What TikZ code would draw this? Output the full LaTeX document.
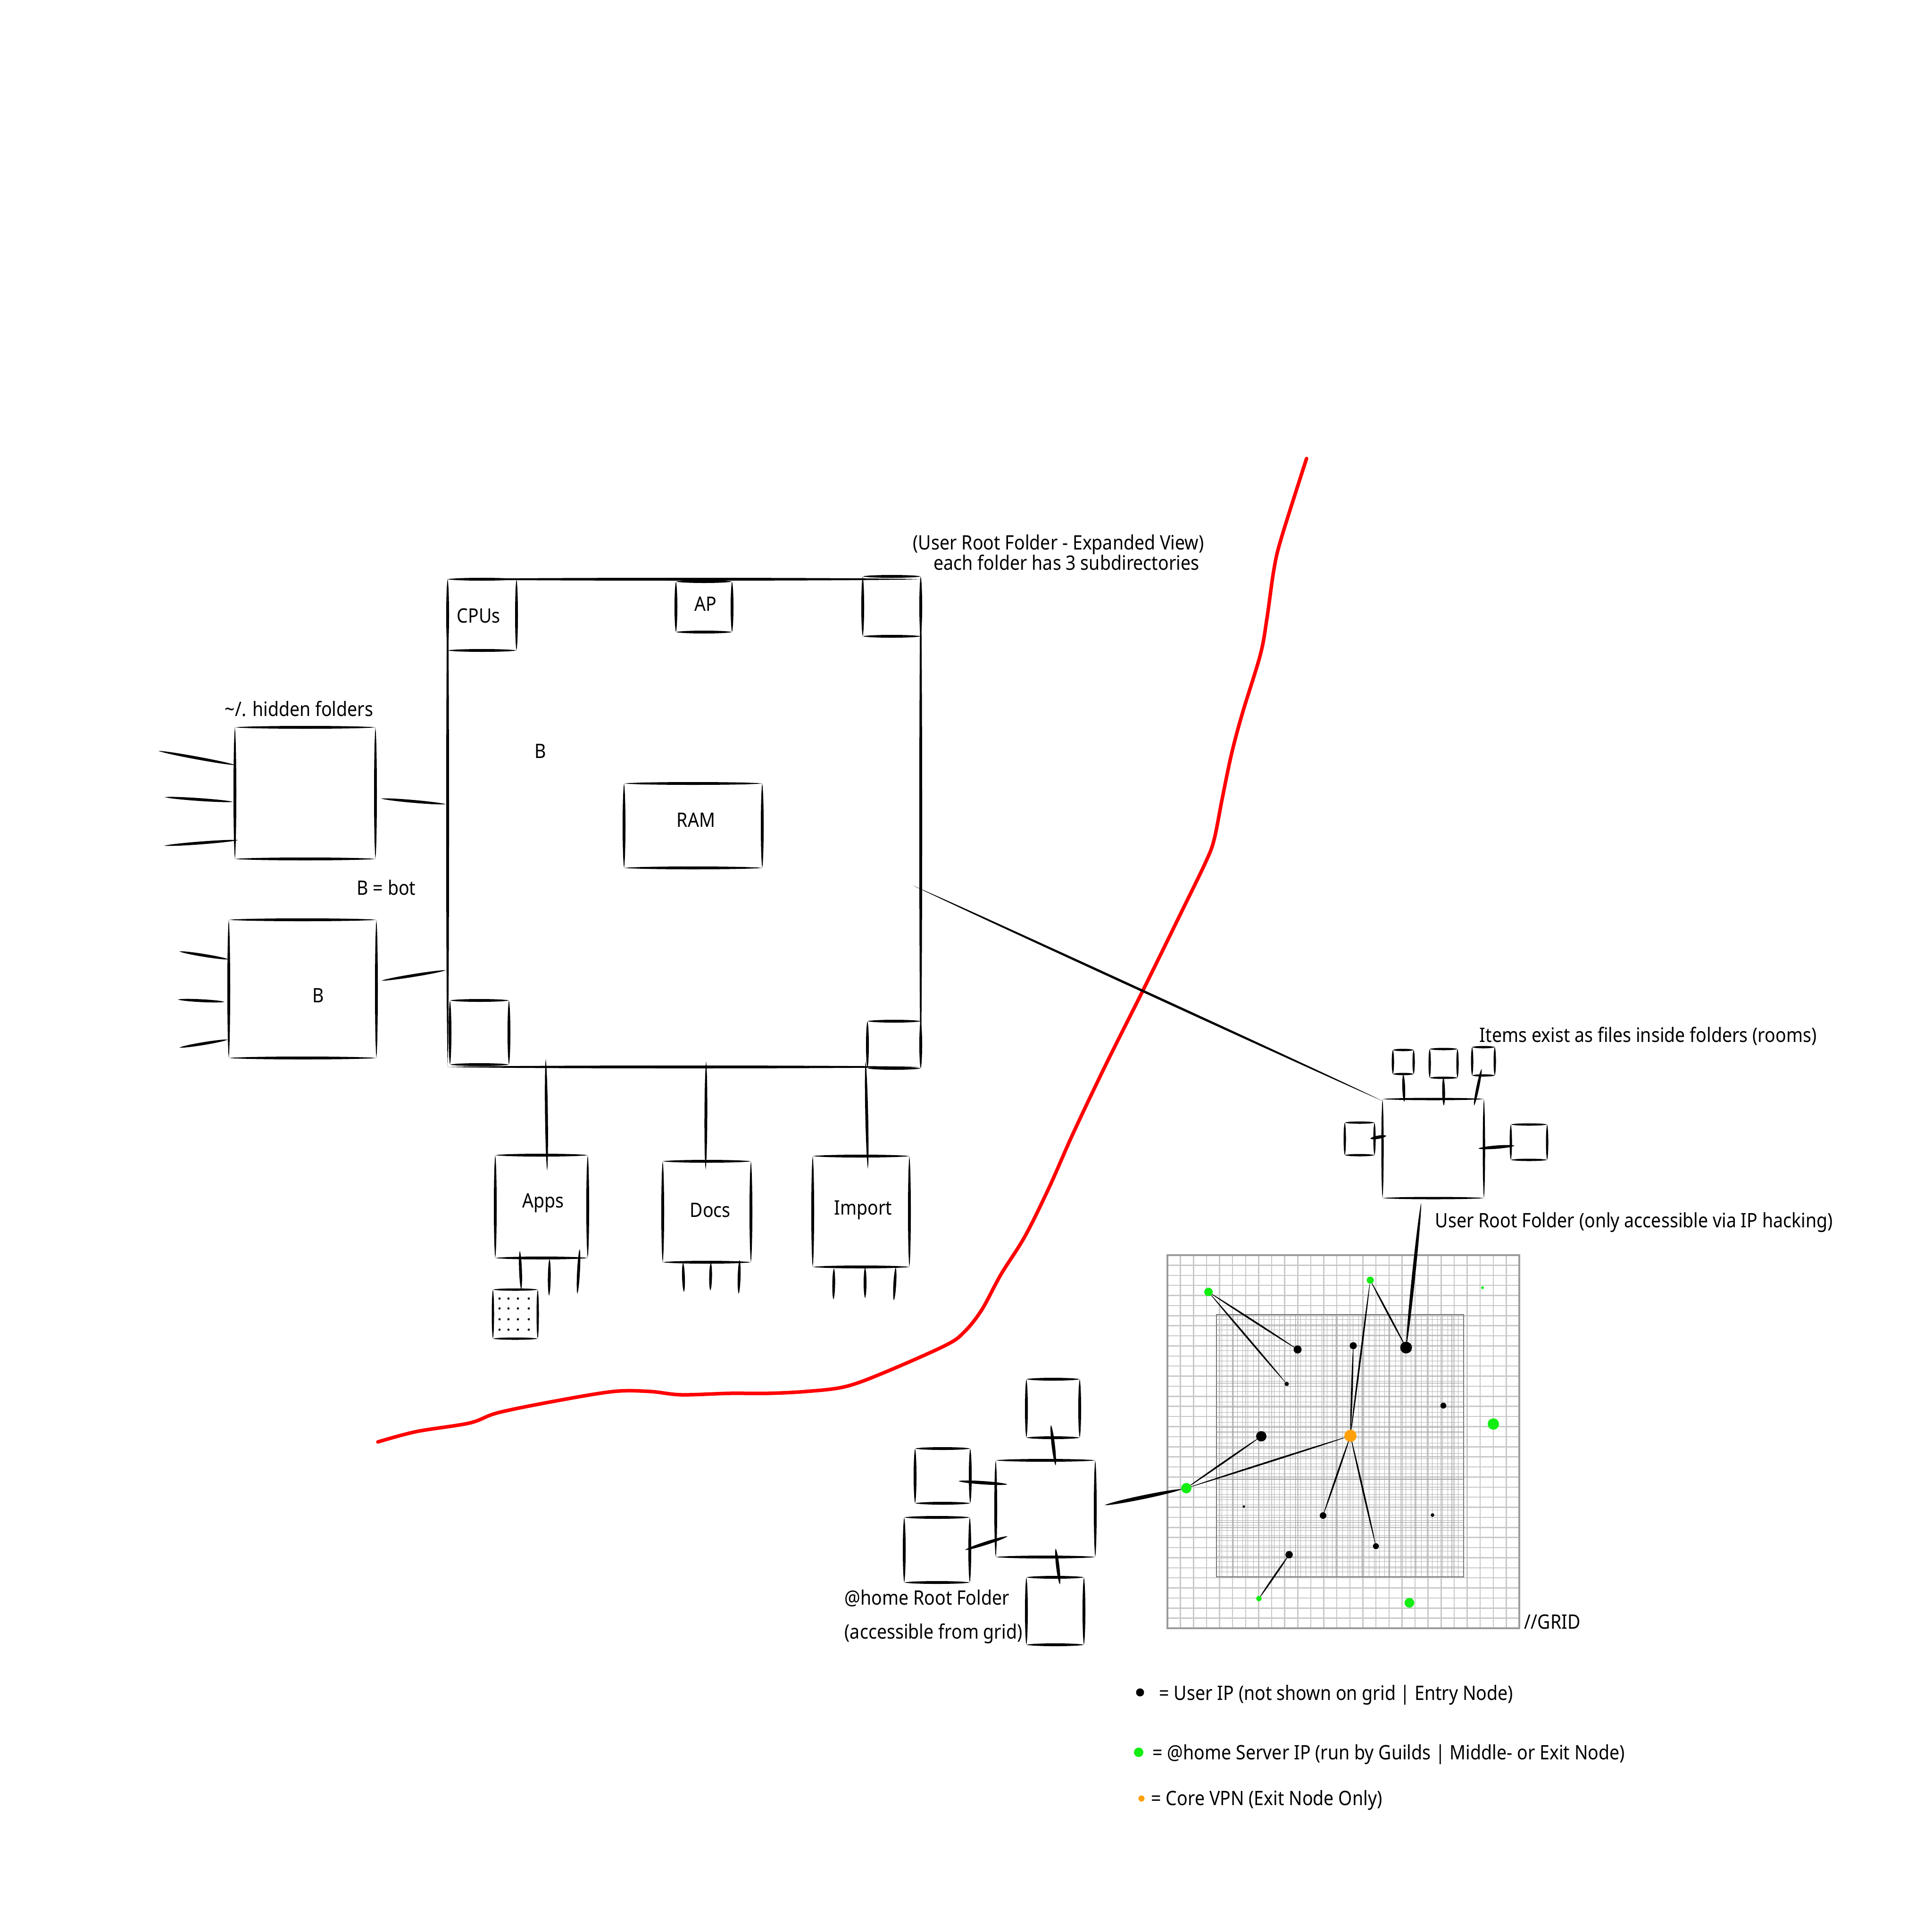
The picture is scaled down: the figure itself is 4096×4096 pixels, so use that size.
\documentclass[tikz,border=0pt]{standalone}
\usepackage{fontspec}
\setmainfont{Noto Sans}[FakeStretch=0.89]
\usetikzlibrary{calc}
\definecolor{gridc}{HTML}{C8C8C8}
\definecolor{gridb}{HTML}{9C9C9C}
\definecolor{innerc}{HTML}{B2B2B2}
\definecolor{innerd}{HTML}{949494}
\definecolor{ipg}{HTML}{12EE12}
\definecolor{ipo}{HTML}{FFA00A}
\definecolor{redc}{HTML}{FF0000}
% tapered stroke from #2 to #3, middle thickness #1 (px)
\newcommand\tp[3][6]{\pgfmathsetmacro\tpd{#1*0.0667}%
\fill ($#2$) .. controls ($#2!0.12!#3!\tpd mm!90:#3$) and ($#3!0.12!#2!\tpd mm!-90:#2$) .. ($#3$)
 .. controls ($#3!0.12!#2!\tpd mm!90:#2$) and ($#2!0.12!#3!\tpd mm!-90:#3$) .. ($#2$) -- cycle;}
% sketchy box: thickness, name, x1, y1, x2, y2
\newcommand\skb[6][6]{%
\node[box, minimum width={(#5-#3)*0.1mm}, minimum height={(#6-#4)*0.1mm}] (#2) at ({(#3+#5)/2},{(#4+#6)/2}) {};
\tp[#1]{(#2.north west)}{(#2.north east)}
\tp[#1]{(#2.north east)}{(#2.south east)}
\tp[#1]{(#2.south east)}{(#2.south west)}
\tp[#1]{(#2.south west)}{(#2.north west)}}
% connector between two named coordinates
\newcommand\cn[7][6]{\coordinate (#2) at (#3,#4); \coordinate (#5) at (#6,#7); \tp[#1]{(#2)}{(#5)}}
\tikzset{
  box/.style={inner sep=0pt, outer sep=0pt, draw=none},
  lbl/.style={anchor=base west, inner sep=0pt, font=\fontsize{12pt}{14pt}\selectfont},
  ip/.style={circle, inner sep=0pt, minimum size={#1*0.2mm}},
}
\begin{document}
\begin{tikzpicture}[x=0.1mm, y=-0.1mm]
\fill[white] (0,0) rectangle (4096,4096);
\useasboundingbox (0,0) rectangle (4096,4096);

% ---------------- red border line ----------------
\draw[redc, line width=0.75mm, line cap=round, line join=round] plot[smooth, tension=0.55] coordinates {
(2770,972) (2717,1139) (2701,1206) (2686,1311) (2672,1388) (2634,1512) (2611,1598) (2591,1694) (2574,1780) (2556,1828) (2505,1933) (2425,2096) (2344,2258) (2275,2403) (2224,2518) (2173,2621) (2122,2702) (2082,2776) (2046,2822) (2005,2852) (1872,2911) (1791,2940) (1709,2950) (1628,2954) (1546,2954) (1444,2957) (1378,2950) (1301,2950) (1179,2970) (1056,2995) (995,3017) (883,3035) (801,3057)};

% ---------------- main folder ----------------
\skb[6]{main}{949}{1228}{1952}{2262}
\skb[6]{cpus}{949}{1228}{1095}{1379}
\skb[6]{ap}{1433}{1233}{1552}{1340}
\skb[6]{tr}{1829}{1222}{1952}{1349}
\skb[6]{ram}{1323}{1661}{1616}{1840}
\skb[6]{bl}{954}{2121}{1079}{2257}
\skb[6]{br}{1839}{2165}{1952}{2265}
\node[lbl] (tcpu) at (968,1320) {CPUs};
\node[lbl] (tap) at (1472,1295) {AP};
\node[lbl] (tb1) at (1133,1607) {B};
\node[lbl] (tram) at (1434,1753) {RAM};
\node[lbl] (t1) at (1935,1165) {(User Root Folder - Expanded View)};
\node[lbl] (t2) at (1979,1208) {each folder has 3 subdirectories};

% ---------------- hidden folders / bot ----------------
\skb[6]{hid}{498}{1542}{796}{1821}
\skb[6]{bot}{485}{1950}{798}{2243}
\node[lbl] (thid) at (476,1518) {\textasciitilde/. hidden folders};
\node[lbl] (tbot) at (756,1897) {B = bot};
\node[lbl] (tb2) at (662,2125) {B};
\cn[6]{h1a}{336}{1592}{h1b}{499}{1622}
\cn[6]{h2a}{349}{1690}{h2b}{494}{1700}
\cn[6]{h3a}{348}{1793}{h3b}{505}{1781}
\cn[6]{hma}{808}{1693}{hmb}{945}{1705}
\cn[6]{b1a}{380}{2017}{b1b}{485}{2034}
\cn[6]{b2a}{377}{2119}{b2b}{476}{2124}
\cn[6]{b3a}{380}{2221}{b3b}{483}{2204}
\cn[6]{bma}{809}{2079}{bmb}{945}{2057}

% ---------------- Apps / Docs / Import ----------------
\skb[6]{apps}{1050}{2449}{1246}{2667}
\skb[6]{docs}{1405}{2462}{1592}{2676}
\skb[6]{imp}{1723}{2451}{1928}{2686}
\skb[5]{dotted}{1045}{2734}{1140}{2838}
\node[lbl] (tapps) at (1107,2560) {Apps};
\node[lbl] (tdocs) at (1462,2580) {Docs};
\node[lbl] (timp) at (1768,2575) {Import};
\cn[6]{ma1}{1157}{2245}{ma2}{1160}{2482}
\cn[6]{md1}{1497}{2250}{md2}{1496}{2480}
\cn[6]{mi1}{1835}{2250}{mi2}{1840}{2478}
\cn[6]{as1}{1102}{2652}{as1b}{1105}{2734}
\cn[6]{as2}{1165}{2669}{as2b}{1164}{2747}
\cn[6]{as3}{1229}{2648}{as3b}{1224}{2743}
\cn[6]{ds1}{1448}{2677}{ds1b}{1450}{2739}
\cn[6]{ds2}{1507}{2677}{ds2b}{1506}{2736}
\cn[6]{ds3}{1568}{2671}{ds3b}{1566}{2743}
\cn[6]{is1}{1768}{2689}{is1b}{1767}{2755}
\cn[6]{is2}{1834}{2687}{is2b}{1834}{2752}
\cn[6]{is3}{1899}{2687}{is3b}{1895}{2757}
\foreach \dx in {1059,1078,1098,1121} \foreach \dy in {2753,2774,2797,2819}
  \fill (\dx,\dy) circle (2.4);

% ---------------- user root folder ----------------
\skb[5]{uroot}{2931}{2330}{3146}{2540}
\skb[5]{it1}{2953}{2226}{2997}{2277}
\skb[5]{it2}{3031}{2224}{3090}{2285}
\skb[5]{it3}{3121}{2220}{3169}{2280}
\skb[5]{itl}{2851}{2380}{2914}{2449}
\skb[5]{itr}{3203}{2384}{3280}{2459}
\node[lbl] (titems) at (3136,2209) {Items exist as files inside folders (rooms)};
\node[lbl] (turf) at (3042,2602) {User Root Folder (only accessible via IP hacking)};
\cn[6]{u1a}{2975}{2278}{u1b}{2977}{2336}
\cn[6]{u2a}{3060}{2285}{u2b}{3061}{2344}
\cn[6]{u3a}{3141}{2266}{u3b}{3125}{2344}
\cn[7]{ula}{2905}{2414}{ulb}{2939}{2408}
\cn[7]{ura}{3134}{2435}{urb}{3211}{2429}
\cn[5]{mu1}{1935}{1877}{mu2}{2931}{2334}

% ---------------- grid ----------------
\foreach \i in {1,...,26} \draw[gridc, line width=0.25mm] ({2475+\i*27.63},2661) -- ++(0,791);
\foreach \j in {1,...,36} \draw[gridc, line width=0.25mm] (2475,{2661+\j*21.38}) -- ++(746,0);
\foreach \i in {1,...,46} \draw[innerc, line width=0.1mm] ({2579+\i*11.15},2787) -- ++(0,556);
\foreach \j in {1,...,50} \draw[innerc, line width=0.1mm] (2579,{2787+\j*10.9}) -- ++(524,0);
\foreach \x in {2614,2746,2832,2887,2944,3000,3077} \draw[innerd, line width=0.1mm] (\x,2787) -- ++(0,556);
\foreach \y in {2932,3035,3136,3227} \draw[innerd, line width=0.1mm] (2579,\y) -- ++(524,0);
\draw[innerd!80!black, line width=0.15mm] (2579,2787) rectangle (3103,3343);
\draw[gridb, line width=0.35mm] (2475,2661) rectangle (3221,3452);
\node[lbl] (tgrid) at (3231,3453) {//GRID};

% ---------------- @home root folder ----------------
\skb[6]{home}{2111}{3096}{2322}{3301}
\skb[6]{htop}{2176}{2924}{2289}{3048}
\skb[6]{hlt}{1940}{3071}{2057}{3187}
\skb[6]{hlb}{1917}{3217}{2056}{3355}
\skb[6]{hbot}{2176}{3344}{2298}{3487}
\node[lbl] (thome1) at (1790,3402) {@home Root Folder};
\node[lbl] (thome2) at (1790,3474) {(accessible from grid)};
\cn[7]{k1a}{2228}{3021}{k1b}{2238}{3107}
\cn[7]{k2a}{2032}{3140}{k2b}{2136}{3147}
\cn[7]{k3a}{2046}{3286}{k3b}{2136}{3257}
\cn[7]{k4a}{2238}{3283}{k4b}{2247}{3359}

% ---------------- IP positions and links ----------------
\coordinate (gA) at (2562,2739);
\coordinate (gB) at (2905,2714);
\coordinate (k1) at (2751,2861);
\coordinate (k2) at (2728,2934);
\coordinate (k3) at (2869,2853);
\coordinate (kbig) at (2981,2857);
\coordinate (k4) at (2674,3045);
\coordinate (or) at (2863,3044);
\coordinate (gC) at (2515,3155);
\coordinate (k5) at (2805,3213);
\coordinate (k6) at (2917,3278);
\coordinate (k7) at (2733,3296);
\coordinate (gD) at (2669,3389);
\tp[3.5]{(gA)}{(k1)}
\tp[3.5]{(gA)}{(k2)}
\tp[3.5]{(gB)}{(kbig)}
\tp[3.5]{(gB)}{(or)}
\tp[3.5]{(k3)}{(or)}
\tp[3.5]{(or)}{(gC)}
\tp[3.5]{(k4)}{(gC)}
\tp[3.5]{(or)}{(k5)}
\tp[3.5]{(or)}{(k6)}
\tp[3.5]{(k7)}{(gD)}
\coordinate (urd) at (3013,2550);
\tp[7]{(urd)}{(kbig)}
\coordinate (hmr) at (2342,3191);
\coordinate (gCw) at (2506,3157);
\tp[8]{(hmr)}{(gCw)}

% ---------------- IP dots ----------------
\node[ip=9, fill=ipg] (gAn) at (gA) {};
\node[ip=7.5, fill=ipg] (gBn) at (gB) {};
\node[ip=3, fill=ipg] (gT) at (3143,2730) {};
\node[ip=8.5, fill=black] (k1n) at (k1) {};
\node[ip=4.5, fill=black] (k2n) at (k2) {};
\node[ip=7.5, fill=black] (k3n) at (k3) {};
\node[ip=12.5, fill=black] (kbign) at (kbig) {};
\node[ip=6.3, fill=black] (k8) at (3060,2980) {};
\node[ip=12, fill=ipg] (gE) at (3166,3019) {};
\node[ip=11, fill=black] (k4n) at (k4) {};
\node[ip=13, fill=ipo] (orn) at (or) {};
\node[ip=11, fill=ipg] (gCn) at (gC) {};
\node[ip=2.6, fill=black] (k9) at (2637,3194) {};
\node[ip=7, fill=black] (k5n) at (k5) {};
\node[ip=3.8, fill=black] (k10) at (3037,3212) {};
\node[ip=6.3, fill=black] (k6n) at (k6) {};
\node[ip=7.8, fill=black] (k7n) at (k7) {};
\node[ip=5.7, fill=ipg] (gDn) at (gD) {};
\node[ip=10.3, fill=ipg] (gF) at (2988,3398) {};

% ---------------- legend ----------------
\node[ip=8.5, fill=black] (lk) at (2417,3588) {};
\node[ip=10, fill=ipg] (lgr) at (2414,3715) {};
\node[ip=6.5, fill=ipo] (lor) at (2420,3813) {};
\node[lbl] (lg1) at (2457,3604) {= User IP (not shown on grid | Entry Node)};
\node[lbl] (lg2) at (2443,3730) {= @home Server IP (run by Guilds | Middle- or Exit Node)};
\node[lbl] (lg3) at (2440,3827) {= Core VPN (Exit Node Only)};
\end{tikzpicture}
\end{document}
